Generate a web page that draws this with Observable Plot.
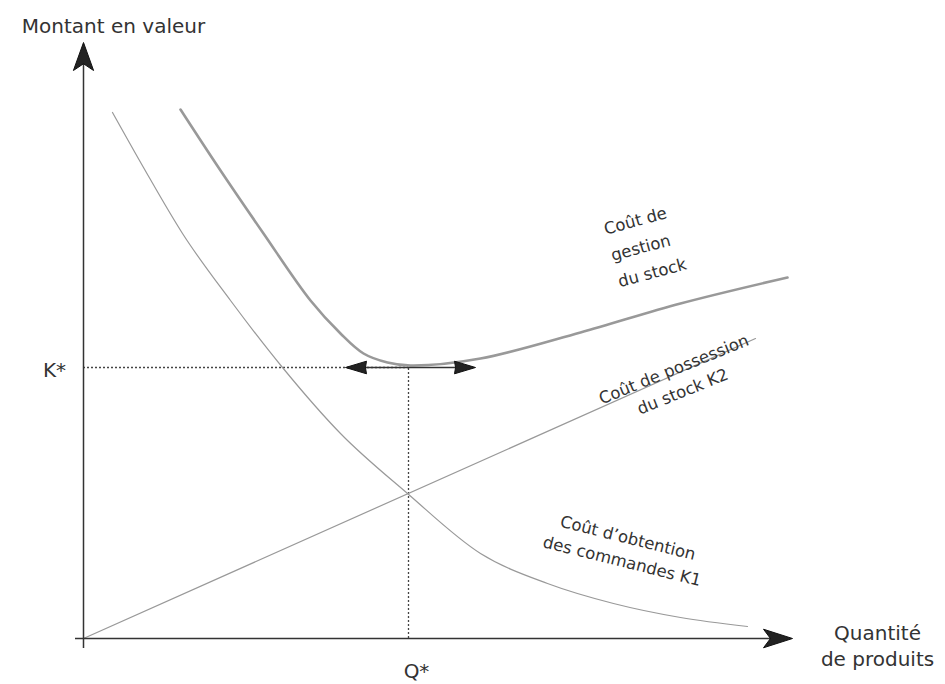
<!DOCTYPE html>
<html><head><meta charset="utf-8">
<script src="https://cdn.jsdelivr.net/npm/d3@7"></script>
<script src="https://cdn.jsdelivr.net/npm/@observablehq/plot@0.6"></script>
<style>body{margin:0;background:#fff;}</style>
</head><body><div id="chart"></div>
<script>
// Conceptual EOQ chart (arbitrary units)
const k1Q = [29, 60, 99, 147, 199, 257, 324, 397, 464, 530, 597, 664];
const k1V = [526, 471, 405, 338, 271, 205, 145, 85, 55, 35, 21, 12];
const k2Q = [0, 672];
const k2V = [0, 300];
const totQ = [97, 135, 180, 227, 257, 280, 304, 327, 397, 497, 597, 704];
const totV = [529, 471, 405, 338, 305, 285, 276, 273, 280, 306, 335, 361];
const qStar = 325;
const kStar = 271;
const axisTitles = ["Montant en valeur", "Quantité\nde produits"];
const axisTitleQ = [30, 794];
const axisTitleV = [614, -6];
const starLabels = ["K*", "Q*"];
const starQ = [-29, 333];
const starV = [268, -33];
const curveLabels = ["Coût de\ngestion\ndu stock", "Coût de possession\ndu stock K2", "Coût d’obtention\ndes commandes K1"];
const curveLabelQ = [527, 594, 542];
const curveLabelV = [386, 260, 91];
const curveLabelAngle = [-15, -22, 14];
const arrowTipQ = [262, 392];

function head(dir, hw, notch) {
  return {draw(ctx, size) {
    const L = Math.sqrt(size / Math.PI);
    const pts = [[0, 0], [hw * L, L], [0, notch * L], [-hw * L, L]];
    const rot = ([a, b]) => dir === "up" ? [a, b] : dir === "right" ? [-b, a] : [b, -a];
    const p = pts.map(rot);
    ctx.moveTo(p[0][0], p[0][1]);
    for (let i = 1; i < p.length; i++) ctx.lineTo(p[i][0], p[i][1]);
    ctx.closePath();
  }};
}

const k1 = k1Q.map((q, i) => ({q, v: k1V[i]}));
const k2 = k2Q.map((q, i) => ({q, v: k2V[i]}));
const tot = totQ.map((q, i) => ({q, v: totV[i]}));
const titles = axisTitles.map((t, i) => ({t, q: axisTitleQ[i], v: axisTitleV[i]}));
const stars = starLabels.map((t, i) => ({t, q: starQ[i], v: starV[i]}));
const labels = curveLabels.map((t, i) => ({t, q: curveLabelQ[i], v: curveLabelV[i], a: curveLabelAngle[i]}));

const txt = "#333";
const chart = Plot.plot({
  width: 945, height: 684,
  marginLeft: 83, marginRight: 0, marginTop: 0, marginBottom: 46,
  x: {domain: [0, 862], axis: null},
  y: {domain: [0, 638], axis: null},
  style: {fontFamily: "DejaVu Sans", background: "#fff"},
  marks: [
    // dotted guides
    Plot.ruleY([kStar], {x1: 0, x2: qStar, stroke: "#444", strokeWidth: 1.3, strokeDasharray: "2,2"}),
    Plot.ruleX([qStar], {y1: 0, y2: kStar, stroke: "#444", strokeWidth: 1.3, strokeDasharray: "2,2"}),
    // curves
    Plot.line(k2, {x: "q", y: "v", stroke: "#999", strokeWidth: 1.2}),
    Plot.line(k1, {x: "q", y: "v", stroke: "#999", strokeWidth: 1.2, curve: "monotone-x"}),
    Plot.line(tot, {x: "q", y: "v", stroke: "#999", strokeWidth: 2.6, curve: "catmull-rom"}),
    // axes
    Plot.ruleX([0], {y1: -10, y2: 580, stroke: "#333", strokeWidth: 1.5}),
    Plot.ruleY([0], {x1: -8, x2: 695, stroke: "#333", strokeWidth: 1.5}),
    Plot.dot([0], {x: 0, y: 596, r: 28, symbol: head("up", 0.36, 0.76), fill: "#222", stroke: "#111", strokeWidth: 1}),
    Plot.dot([0], {x: 709, y: 0, r: 29, symbol: head("right", 0.32, 0.76), fill: "#222", stroke: "#111", strokeWidth: 1}),
    // double arrow at the minimum
    Plot.ruleY([kStar], {x1: arrowTipQ[0] + 2, x2: arrowTipQ[1] - 2, stroke: "#333", strokeWidth: 1.6}),
    Plot.dot([0], {x: arrowTipQ[0], y: kStar, r: 21, symbol: head("left", 0.3, 0.95), fill: "#222", stroke: "#111", strokeWidth: 1}),
    Plot.dot([0], {x: arrowTipQ[1], y: kStar, r: 21, symbol: head("right", 0.3, 0.95), fill: "#222", stroke: "#111", strokeWidth: 1}),
    // texts
    Plot.text(titles, {x: "q", y: "v", text: "t", fontSize: 20, fill: txt, lineHeight: 1.3}),
    Plot.text(stars, {x: "q", y: "v", text: "t", fontSize: 20, fill: txt}),
    Plot.text(labels.slice(0, 1), {x: "q", y: "v", text: "t", rotate: "a", fontSize: 16.5, fill: txt, textAnchor: "start", lineHeight: 1.65}),
    Plot.text(labels.slice(1), {x: "q", y: "v", text: "t", rotate: "a", fontSize: 16.5, fill: txt, textAnchor: "middle", lineHeight: 1.45})
  ]
});
document.getElementById("chart").appendChild(chart);
</script></body></html>
